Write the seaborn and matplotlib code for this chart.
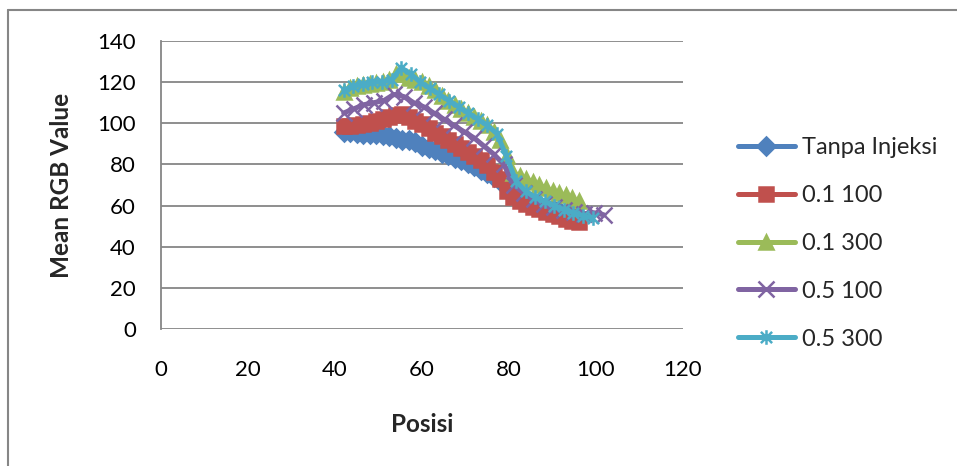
import numpy as np
import pandas as pd
import matplotlib
matplotlib.use("Agg")
import matplotlib.pyplot as plt
from matplotlib.path import Path
from matplotlib.lines import Line2D
import seaborn as sns

# --- data -------------------------------------------------------------
series_names = ["Tanpa Injeksi", "0.1 100", "0.1 300", "0.5 100", "0.5 300"]

x_fine = [42.0, 43.5, 45.0, 46.5, 48.0, 49.5, 51.0, 52.5, 54.0, 55.5, 57.0,
          58.5, 60.0, 61.5, 63.0, 64.5, 66.0, 67.5, 69.0, 70.5, 72.0, 73.5,
          75.0, 76.5, 78.0, 79.5, 81.0, 82.5, 84.0, 85.5, 87.0, 88.5, 90.0,
          91.5, 93.0, 94.5, 96.0]

tanpa_injeksi = [96, 96, 95.5, 95, 95, 95, 94.5, 94, 93, 92, 92, 91, 89, 88,
                 87, 85.5, 84.5, 83, 82, 80.5, 79, 77.5, 76, 74, 72, 69, 66,
                 64, 63, 61.5, 60.5, 59.5, 58.5, 57.5, 56.5, 55.5, 55]

injeksi_01_100 = [98.5, 98.5, 99, 99.5, 100, 101, 102, 103, 104, 104.5, 103,
                  101, 99.5, 97.5, 95.5, 94, 92, 90, 88, 86, 84, 82, 79.5,
                  76.5, 73, 67, 64, 62, 61, 59.5, 58.5, 57, 56, 55, 53.5,
                  52.5, 52]

injeksi_01_300 = [115, 117, 118, 118.5, 119, 119.5, 120, 121, 124, 124, 122,
                  121, 120, 118, 116, 113.5, 111, 109, 107, 105, 103, 101, 99,
                  96, 92, 84, 76, 74.5, 73, 71.5, 70, 68.5, 67, 66, 65, 63.5,
                  62]

x_05_100 = [42.0, 44.3, 46.6, 48.9, 51.2, 53.5, 55.8, 58.1, 60.4, 62.7, 65.0,
            67.3, 69.6, 71.9, 74.2, 76.5, 78.8, 81.1, 83.4, 85.7, 88.0, 90.3,
            92.6, 94.9, 97.2, 99.5, 101.8]
injeksi_05_100 = [105, 107, 109, 110, 111, 114, 113, 110, 108, 105, 102, 99,
                  96, 93, 89, 85, 80, 70, 66, 63, 61, 59.5, 58, 57, 56, 56.5,
                  55.5]

x_05_300 = [42.0, 44.2, 46.4, 48.6, 50.8, 53.0, 55.2, 57.4, 59.6, 61.8, 64.0,
            66.2, 68.4, 70.6, 72.8, 75.0, 77.2, 79.4, 81.6, 83.8, 86.0, 88.2,
            90.4, 92.6, 94.8, 97.0, 99.2]
injeksi_05_300 = [116, 118, 119, 120, 120, 121, 127, 124, 120, 117, 114, 111,
                  108, 105, 102, 99, 95, 84, 72, 67, 64, 62, 60, 58, 56.5, 55,
                  54]

x_ticks = [0, 20, 40, 60, 80, 100, 120]
y_ticks = [0, 20, 40, 60, 80, 100, 120, 140]

series_x = [x_fine, x_fine, x_fine, x_05_100, x_05_300]
series_y = [tanpa_injeksi, injeksi_01_100, injeksi_01_300,
            injeksi_05_100, injeksi_05_300]

# --- style ------------------------------------------------------------
sns.set_theme(style="white")
plt.rcParams["font.family"] = ["Lato", "DejaVu Sans"]

colors = ["#4F81BD", "#C0504D", "#9BBB59", "#8064A2", "#4BACC6"]

# asterisk marker: an X crossed by a vertical bar
star_path = Path(
    [(-1, -1), (1, 1), (-1, 1), (1, -1), (0, -1.3), (0, 1.3)],
    [Path.MOVETO, Path.LINETO, Path.MOVETO, Path.LINETO, Path.MOVETO, Path.LINETO],
)
markers = ["D", "s", "^", "x", star_path]
marker_sizes = [9, 10.5, 10.5, 11, 10.5]

tick_fs = 16
label_fs = 17.5
legend_fs = 17

fig = plt.figure(figsize=(9.57, 4.66), dpi=100)
ax = fig.add_axes([161 / 957, 1 - 329 / 466, (683 - 161) / 957, (329 - 41) / 466])
ax.set_facecolor("none")

for name, xs, ys, c, m, ms in zip(series_names, series_x, series_y,
                                   colors, markers, marker_sizes):
    data = pd.DataFrame({"Posisi": xs, "RGB": ys})
    sns.lineplot(
        data=data, x="Posisi", y="RGB", color=c, marker=m, markersize=ms,
        markeredgecolor=c, markerfacecolor=c, markeredgewidth=1.8,
        linewidth=3.6, estimator=None, sort=False, label=name, ax=ax,
    )

ax.set_xlim(0, 120)
ax.set_ylim(0, 140)
ax.set_xticks(x_ticks)
ax.set_yticks(y_ticks)
ax.tick_params(axis="x", length=0, pad=22, labelsize=tick_fs, colors="black")
ax.tick_params(axis="y", length=0, pad=18, labelsize=tick_fs, colors="black")

ax.grid(axis="y", color="#868686", linewidth=1.3)
ax.grid(axis="x", visible=False)
ax.set_axisbelow(True)
for side in ["top", "right", "bottom"]:
    ax.spines[side].set_visible(False)
ax.spines["left"].set_color("#868686")
ax.spines["left"].set_linewidth(1.3)

ax.set_xlabel("Posisi", fontsize=label_fs, fontweight="bold", va="center")
ax.set_ylabel("Mean RGB Value", fontsize=label_fs, fontweight="bold", va="center")
ax.xaxis.set_label_coords(0.5, -0.333)
ax.yaxis.set_label_coords(-0.19, 0.5)

handles, labels = ax.get_legend_handles_labels()
ax.legend(
    handles, labels,
    loc="upper left", bbox_to_anchor=(738 / 957, 1 - 137 / 466),
    bbox_transform=fig.transFigure, frameon=False, fontsize=legend_fs,
    handlelength=2.4, handletextpad=0.3, labelspacing=1.14,
    borderaxespad=0, borderpad=0,
)

# outer chart frame (left and top edges)
fig.add_artist(Line2D([8 / 957, 8 / 957], [0, 1 - 10 / 466],
                      transform=fig.transFigure, color="#868686", linewidth=1.5))
fig.add_artist(Line2D([8 / 957, 1], [1 - 10 / 466, 1 - 10 / 466],
                      transform=fig.transFigure, color="#868686", linewidth=1.5))

fig.savefig("out.png", dpi=100)
